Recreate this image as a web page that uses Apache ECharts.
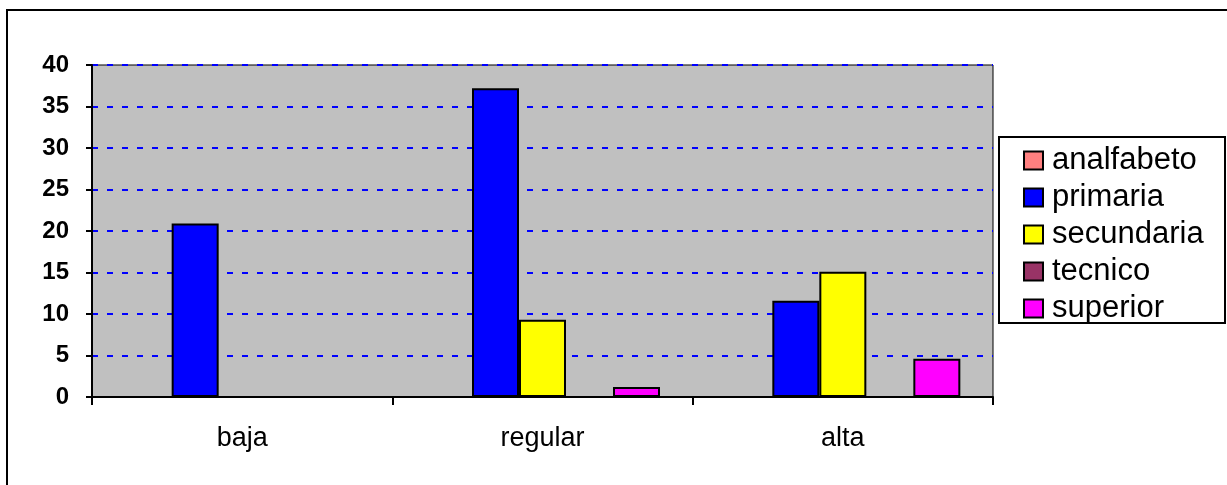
<!DOCTYPE html>
<html>
<head>
<meta charset="utf-8">
<script src="https://cdn.jsdelivr.net/npm/echarts@6/dist/echarts.min.js"></script>
<style>
  html, body { margin: 0; padding: 0; background: #fff; }
  #chart { width: 1227px; height: 485px; }
</style>
</head>
<body>
<div id="chart"></div>
<script>
// Categories on the x axis
const categories = ['baja', 'regular', 'alta'];

// One array per education level, in category order
const analfabeto = [0, 0, 0];
const primaria = [20.9, 37.2, 11.6];
const secundaria = [0, 9.3, 15.1];
const tecnico = [0, 0, 0];
const superior = [0, 1.2, 4.6];

const seriesNames = ['analfabeto', 'primaria', 'secundaria', 'tecnico', 'superior'];
const seriesValues = [analfabeto, primaria, secundaria, tecnico, superior];
const seriesColors = ['#FF8080', '#0000FF', '#FFFF00', '#993366', '#FF00FF'];

// Value axis range
const yMin = 0;
const yMax = 40;
const yStep = 5;

const FONT = 'Arial, "Liberation Sans", sans-serif';

const chart = echarts.init(document.getElementById('chart'), null, { renderer: 'canvas' });

chart.setOption({
  backgroundColor: '#ffffff',
  animation: false,
  graphic: [
    {
      type: 'rect',
      z: -10,
      shape: { x: 7, y: 10, width: 1240, height: 500 },
      style: { fill: 'none', stroke: '#000', lineWidth: 2 }
    },
    {
      type: 'rect',
      z: -10,
      shape: { x: 999, y: 137, width: 226, height: 186 },
      style: { fill: '#fff', stroke: '#000', lineWidth: 2 }
    }
  ],
  grid: {
    left: 92,
    right: 234,
    top: 65,
    bottom: 88,
    show: true,
    backgroundColor: '#C0C0C0',
    borderColor: '#000',
    borderWidth: 1
  },
  legend: {
    orient: 'vertical',
    left: 1015,
    top: 137,
    padding: [8, 4, 2, 8],
    itemWidth: 19,
    itemHeight: 18,
    itemGap: 6,
    icon: 'rect',
    selectedMode: false,
    textStyle: { fontFamily: FONT, fontSize: 31, lineHeight: 30, color: '#000', padding: [0, 0, 0, 4] },
    data: seriesNames
  },
  xAxis: {
    type: 'category',
    data: categories,
    boundaryGap: true,
    axisLine: { lineStyle: { color: '#000', width: 2 } },
    axisTick: { show: true, alignWithLabel: false, length: 8, lineStyle: { color: '#000', width: 2 } },
    axisLabel: { fontFamily: FONT, fontSize: 27, color: '#000', margin: 28 },
    splitLine: { show: false }
  },
  yAxis: {
    type: 'value',
    min: yMin,
    max: yMax,
    interval: yStep,
    axisLine: { show: true, lineStyle: { color: '#000', width: 2 } },
    axisTick: { show: true, length: 6, lineStyle: { color: '#000', width: 2 } },
    axisLabel: { fontFamily: FONT, fontSize: 24, fontWeight: 'bold', color: '#000', margin: 23 },
    splitLine: { show: true, lineStyle: { color: '#0000FF', width: 2, type: [6, 9] } }
  },
  series: seriesNames.map((name, i) => ({
    name: name,
    type: 'bar',
    data: seriesValues[i],
    barWidth: 47,
    barGap: '0%',
    itemStyle: { color: seriesColors[i], borderColor: '#000', borderWidth: 2 }
  }))
});
</script>
</body>
</html>
